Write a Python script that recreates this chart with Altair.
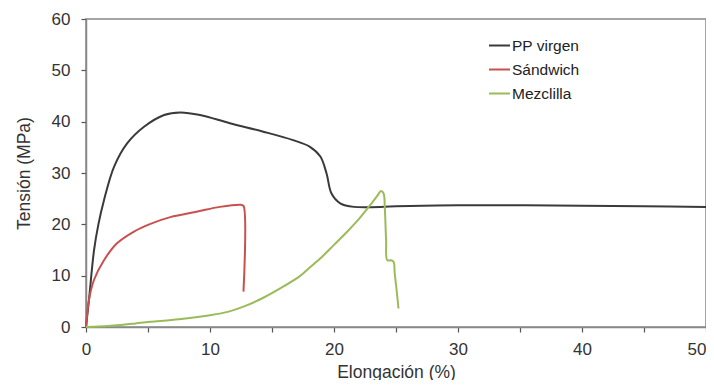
import altair as alt
import pandas as pd

# PP virgen
pp_x = [0, 0.24, 0.65, 1.0, 1.45, 2.26, 3.33, 4.68, 6.3, 7.6, 9.2, 11.6, 14.3, 16.7, 18.06,
        18.9, 19.4, 19.8, 20.5, 21.6, 25, 30, 35, 40, 45, 50]
pp_y = [0, 5.3, 15, 20, 24.7, 31.2, 35.8, 39, 41.3, 41.8, 41.3, 39.7, 38.05, 36.4, 35.1,
        33.2, 29.9, 26.0, 24.1, 23.4, 23.5, 23.7, 23.7, 23.6, 23.5, 23.4]

# Sándwich
sw_x = [0, 0.24, 0.65, 1.45, 2.5, 3.87, 5.2, 6.8, 9.0, 10.8, 12.5, 12.7, 12.7]
sw_y = [0, 5.3, 9.2, 13, 16.3, 18.6, 20.1, 21.4, 22.5, 23.4, 23.8, 23.6, 6.9]

# Mezclilla
mz_x = [0, 1, 2, 3, 4, 5.16, 7.5, 10, 11.5, 12.7, 14.3, 15.9, 17.3, 18.0, 19.0, 20.0, 21.0,
        22.0, 23.0, 23.5, 23.8, 24.0, 24.1, 24.2, 24.3, 24.6, 24.8, 24.9, 25.1, 25.2]
mz_y = [0, 0.1, 0.25, 0.45, 0.7, 1.0, 1.5, 2.3, 3.0, 3.96, 5.7, 7.85, 10.0, 11.5, 13.6, 16.0, 18.4,
        21.0, 24.0, 25.6, 26.5, 26.0, 23.0, 17.0, 13.0, 13.0, 12.7, 10.4, 6.0, 3.6]

series = ["PP virgen", "Sándwich", "Mezclilla"]
colors = ["#3a3a3a", "#c9504f", "#9bbb59"]

rows = []
for name, xs, ys in zip(series, [pp_x, sw_x, mz_x], [pp_y, sw_y, mz_y]):
    for i, (a, b) in enumerate(zip(xs, ys)):
        rows.append({"serie": name, "x": a, "y": b, "i": i})
df = pd.DataFrame(rows)

FONT = "Liberation Sans"

chart = alt.Chart(df).mark_line(strokeWidth=2, interpolate="catmull-rom").encode(
    x=alt.X("x:Q", title="Elongación (%)",
            scale=alt.Scale(domain=[0, 50], nice=False, zero=False),
            axis=alt.Axis(values=list(range(0, 51, 5)),
                          labelExpr="datum.value % 10 == 0 ? datum.label : ''",
                          labelAlign={"condition": {"test": "datum.value == 50", "value": "right"},
                                      "value": "center"},
                          labelFlush=False, labelOverlap=False, labelPadding=9,
                          titlePadding=6)),
    y=alt.Y("y:Q", title="Tensión (MPa)",
            scale=alt.Scale(domain=[0, 60], nice=False),
            axis=alt.Axis(values=list(range(0, 61, 10)), labelFlush=False,
                          labelPadding=11, titlePadding=18)),
    color=alt.Color("serie:N", scale=alt.Scale(domain=series, range=colors),
                    legend=alt.Legend(title=None, orient="none", legendX=402, legendY=15,
                                      symbolType="stroke", symbolSize=441,
                                      symbolStrokeWidth=2, labelOffset=1,
                                      labelFontSize=15.5, labelColor="#222",
                                      labelFont=FONT, rowPadding=4, padding=0)),
    order="i:Q",
).properties(
    width=620, height=308,
    autosize=alt.AutoSizeParams(type="none"),
    padding={"left": 78, "top": 11, "right": 0, "bottom": 53},
).configure_view(
    stroke="#888888", strokeWidth=1.5
).configure_axis(
    grid=False, domainColor="#888888", domainWidth=1.5,
    tickColor="#555555", tickSize=5, tickWidth=1.2,
    labelFont=FONT, labelFontSize=17, labelColor="#333333",
    titleFont=FONT, titleFontSize=17.5, titleColor="#333333", titleFontWeight="normal",
)

chart.save("out.html", embed_options={"renderer": "svg", "actions": False})
